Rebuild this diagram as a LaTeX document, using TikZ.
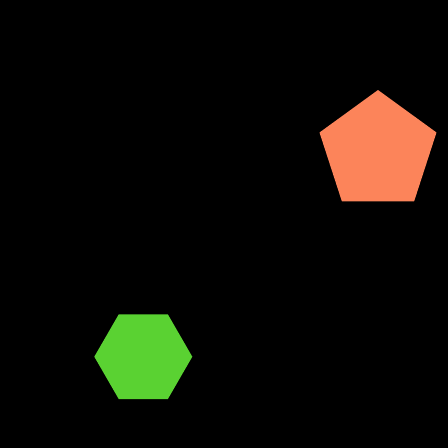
\documentclass[tikz,border=0pt]{standalone}
\usepackage{tikz}
\usetikzlibrary{shapes.geometric}

\definecolor{PentaOrange}{RGB}{252,132,90}
\definecolor{HexaGreen}{RGB}{90,210,50}

\begin{document}
\begin{tikzpicture}[x=1pt,y=-1pt,
  shapefill/.style={regular polygon,draw=none,inner sep=0pt,outer sep=0pt}]

% background and size
\fill[black] (0,0) rectangle (448,448);
\useasboundingbox (0,0) rectangle (448,448);

% pentagon
\node[shapefill,regular polygon sides=5,fill=PentaOrange,minimum size=123pt] (penta) at (378,151.5) {};

% hexagon
\node[shapefill,regular polygon sides=6,fill=HexaGreen,minimum size=98pt] (hexa) at (143.3,356.7) {};

\end{tikzpicture}
\end{document}
